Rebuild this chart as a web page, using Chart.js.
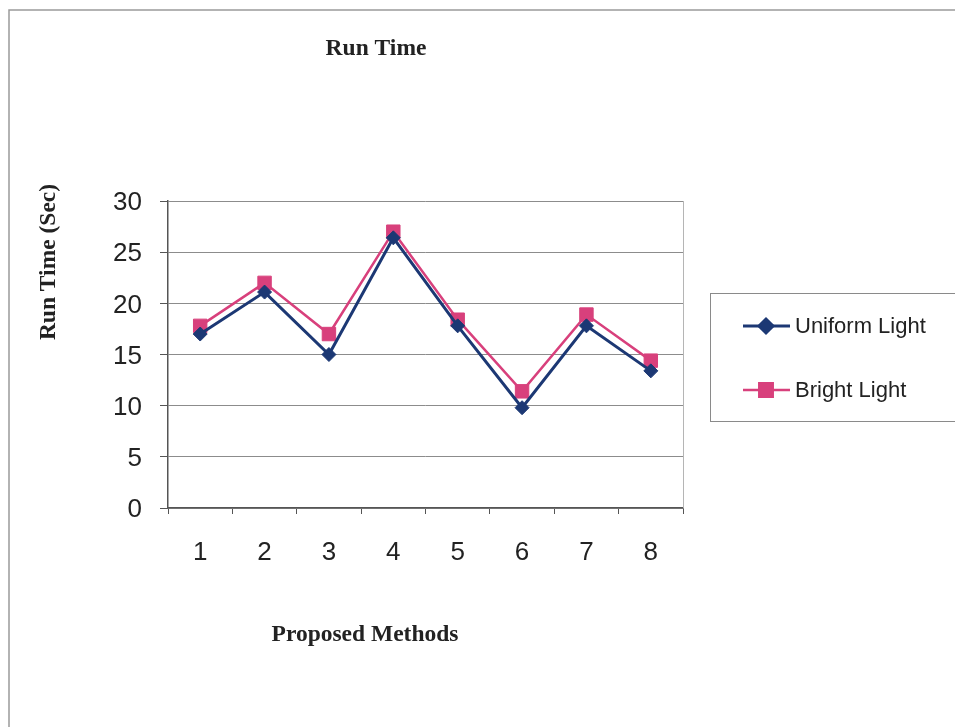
<!DOCTYPE html>
<html>
<head>
<meta charset="utf-8">
<title>Run Time</title>
<script src="https://cdn.jsdelivr.net/npm/chart.js@4/dist/chart.umd.min.js"></script>
<style>
  html, body { margin: 0; padding: 0; background: #ffffff; }
  #wrap { width: 955px; height: 727px; position: relative; }
</style>
</head>
<body>
<div id="wrap"><canvas id="c" width="955" height="727"></canvas></div>
<script>
// Methods on the x axis
const methods = ['1', '2', '3', '4', '5', '6', '7', '8'];
// Run time in seconds for each lighting condition
const uniformLight = [17, 21.1, 15, 26.4, 17.8, 9.8, 17.8, 13.4];
const brightLight = [17.8, 22, 17, 27, 18.4, 11.4, 18.9, 14.4];
// Value axis tick range
const yMin = 0, yMax = 30, yStep = 5;

const seriesNames = ['Uniform Light', 'Bright Light'];
const navy = '#1c3874';
const pink = '#d8407c';

const sans = '"Liberation Sans", Arial, sans-serif';
const serif = '"Liberation Serif", "Times New Roman", serif';

// Page frame, axis titles, chart title, plot right border and legend box
function drawDecorations(chart) {
  const ctx = chart.ctx;
  const a = chart.chartArea;
  ctx.save();

  // outer frame (left and top edges)
  ctx.strokeStyle = '#9a9a9a';
  ctx.lineWidth = 1.5;
  ctx.beginPath();
  ctx.moveTo(9, 727);
  ctx.lineTo(9, 10);
  ctx.lineTo(955, 10);
  ctx.stroke();

  // plot area right border
  ctx.strokeStyle = '#b5b5b5';
  ctx.lineWidth = 1;
  ctx.beginPath();
  ctx.moveTo(a.right + 0.5, a.top);
  ctx.lineTo(a.right + 0.5, a.bottom);
  ctx.stroke();

  // titles
  ctx.fillStyle = '#222';
  ctx.font = 'bold 23.5px ' + serif;
  ctx.textAlign = 'center';
  ctx.textBaseline = 'middle';
  ctx.fillText('Run Time', 376, 49);
  ctx.fillText('Proposed Methods', 365, 635);
  ctx.save();
  ctx.translate(49, 262);
  ctx.rotate(-Math.PI / 2);
  ctx.fillText('Run Time (Sec)', 0, 0);
  ctx.restore();

  // legend box
  ctx.strokeStyle = '#8a8a8a';
  ctx.lineWidth = 1;
  ctx.strokeRect(710.5, 293.5, 260, 128);

  const rows = [326, 390];
  chart.data.datasets.forEach((ds, i) => {
    const y = rows[i];
    ctx.strokeStyle = ds.borderColor;
    ctx.lineWidth = ds.borderWidth;
    ctx.beginPath();
    ctx.moveTo(743, y);
    ctx.lineTo(790, y);
    ctx.stroke();
    ctx.fillStyle = ds.backgroundColor;
    ctx.strokeStyle = ds.borderColor;
    Chart.helpers.drawPoint(ctx, {
      pointStyle: ds.pointStyle,
      radius: ds.pointRadius,
      borderWidth: 1
    }, 766, y);
    ctx.fillStyle = '#222';
    ctx.font = '22px ' + sans;
    ctx.textAlign = 'left';
    ctx.textBaseline = 'middle';
    ctx.fillText(ds.label, 795, y + 1);
  });
  ctx.restore();
}

new Chart(document.getElementById('c'), {
  type: 'line',
  data: {
    labels: methods,
    datasets: [
      {
        label: seriesNames[0],
        data: uniformLight,
        borderColor: navy,
        backgroundColor: navy,
        pointBackgroundColor: navy,
        pointBorderColor: navy,
        borderWidth: 3,
        pointStyle: 'rectRot',
        pointRadius: 7,
        pointBorderWidth: 1,
        tension: 0
      },
      {
        label: seriesNames[1],
        data: brightLight,
        borderColor: pink,
        backgroundColor: pink,
        pointBackgroundColor: pink,
        pointBorderColor: pink,
        borderWidth: 2.5,
        pointStyle: 'rect',
        pointRadius: 9.5,
        pointBorderWidth: 1,
        tension: 0
      }
    ]
  },
  options: {
    responsive: false,
    animation: false,
    devicePixelRatio: 1,
    layout: { padding: { left: 0, top: 201, right: 272, bottom: 0 } },
    plugins: {
      legend: { display: false },
      title: { display: false },
      tooltip: { enabled: false }
    },
    scales: {
      x: {
        type: 'category',
        offset: true,
        grid: {
          offset: true,
          drawOnChartArea: false,
          drawTicks: true,
          tickLength: 6,
          color: '#555'
        },
        border: { color: '#555', width: 1.5 },
        ticks: {
          color: '#222',
          font: { family: sans, size: 26 },
          padding: 23,
          maxRotation: 0
        },
        afterFit(scale) { scale.height = 727 - 508; }
      },
      y: {
        min: yMin,
        max: yMax,
        ticks: {
          stepSize: yStep,
          color: '#222',
          font: { family: sans, size: 26 },
          padding: 18,
          labelOffset: 2
        },
        grid: {
          color: '#8c8c8c',
          tickColor: '#555',
          tickLength: 8,
          lineWidth: 1
        },
        border: { color: '#555', width: 1.5 },
        afterFit(scale) { scale.width = 168; }
      }
    }
  },
  plugins: [{
    id: 'decorations',
    afterDraw(chart) { drawDecorations(chart); }
  }]
});
</script>
</body>
</html>
